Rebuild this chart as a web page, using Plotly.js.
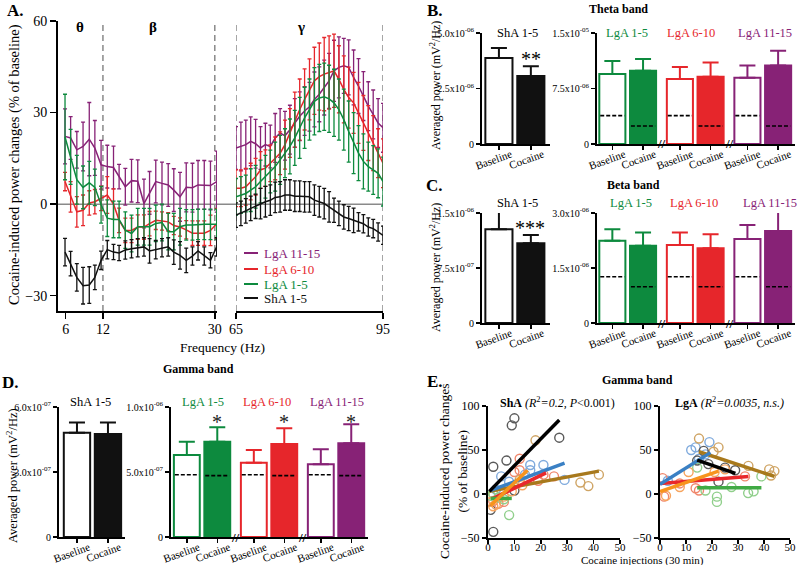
<!DOCTYPE html>
<html>
<head>
<meta charset="utf-8">
<script src="https://cdn.plot.ly/plotly-3.0.1.min.js"></script>
<style>
  body { margin: 0; background: #fff; }
  #chart { width: 800px; height: 565px; }
</style>
</head>
<body>
<div id="chart"></div>
<script>
// ------------------------------- data: panel A (spectra) -------------------------------
var freqLow = [5.9, 6.8, 7.8, 8.8, 9.8, 10.7, 11.7, 12.7, 13.7, 14.6, 15.6, 16.6, 17.6, 18.6, 19.5, 20.5, 21.5, 22.5, 23.4, 24.4, 25.4, 26.4, 27.3, 28.3, 29.3, 30.3];
var freqHigh = [65, 66, 67, 68, 69, 70, 71, 72, 73, 74, 75, 76, 77, 78, 79, 80, 81, 82, 83, 84, 85, 86, 87, 88, 89, 90, 91, 92, 93, 94, 95];

var lga1115Low = [22.2, 21.7, 17.8, 18.9, 21.3, 18.4, 12.9, 12.3, 12.0, 9.0, 5.7, 7.7, 7.5, 0.2, 3.7, 7.4, 6.8, 6.3, 4.6, 2.4, 5.5, 5.4, 6.3, 6.3, 6.1, 7.4];
var lga1115LowErr = [9, 7, 6, 8, 12, 9, 8, 7, 7, 4, 6, 7, 7, 8, 7, 7, 7, 7, 7, 8, 8, 8, 8, 8, 8, 10];
var lga610Low = [7.4, 2.4, -2.5, -2, 0.4, 0.8, 1.9, 3, 0, -5.3, -8.6, -8.6, -7.5, -7.5, -6.4, -5.3, -5.5, -5.8, -7, -7.5, -8.4, -9.5, -9.5, -9.5, -8.6, -6.4];
var lga610LowErr = [3, 5, 5, 5, 4, 4, 4, 6, 5, 4, 4, 4, 4, 4, 4, 3, 3, 3, 3, 3, 3, 4, 4, 4, 5, 5];
var lga15Low = [22, 15.5, 8, 5.5, 7, 5.5, -0.2, -4.6, -5, -5, -8.5, -9.6, -7.4, -7.4, -7.4, -6.3, -6, -9, -9, -7.4, -6.8, -6.8, -6.6, -6.6, -6.6, -6.6];
var lga15LowErr = [14, 9, 8, 7, 7, 6, 6, 6, 6, 6, 6, 6, 6, 6, 6, 6, 6, 6, 6, 6, 5, 5, 5, 5, 5, 5];
var sha15Low = [-15.7, -19.5, -24, -26.7, -26.5, -24, -18.4, -14.9, -15.7, -16, -15, -14.6, -14.3, -14, -15.3, -14.9, -14.3, -14, -15.7, -16.8, -18.4, -17, -15.3, -17, -18.4, -14];
var sha15LowErr = [4.5, 4, 4.5, 6, 6, 4, 3, 3, 2.5, 2.5, 3, 3, 3, 3, 4, 3, 3, 3, 4, 4.5, 4, 3, 3, 3, 2.5, 3];

var lga1115High = [18.4, 18.9, 19.5, 20.6, 19.8, 18.4, 19.5, 18.9, 21.7, 23.3, 22.4, 24.4, 26.6, 28.8, 30.5, 31.9, 34.3, 36, 38.2, 40.4, 43.7, 44.8, 45.3, 44.8, 41.5, 38.7, 35.4, 32.1, 29.4, 26.6, 25];
var lga1115HighErr = [7, 8, 8, 8, 8, 7, 7, 7, 8, 8, 8, 8, 8, 8, 8, 8, 9, 9, 9, 9, 10, 10, 9, 9, 9, 9, 8, 8, 8, 8, 8];
var lga610High = [5.2, 5.2, 5.7, 7.4, 9, 11.2, 11.8, 13.4, 15, 16.7, 19.5, 23.3, 27.7, 31, 34.3, 37.6, 40.4, 41.8, 42.6, 43.1, 43.7, 40.9, 37.6, 34.9, 33.2, 29.9, 26.6, 23.3, 20, 16.7, 13.4];
var lga610HighErr = [6, 6, 6, 6, 6, 6, 6, 6, 7, 7, 8, 8, 9, 10, 10, 10, 11, 11, 12, 12, 12, 11, 11, 10, 10, 10, 9, 9, 9, 8, 8];
var lga15High = [2.4, 3, 3.5, 4.6, 5.7, 7.4, 9, 10.7, 12.3, 14.5, 16.7, 18.9, 21.7, 25, 28.3, 31, 33.7, 34.8, 35.2, 34.5, 33.2, 31, 27.7, 23.8, 20, 16.7, 14, 12.3, 11.2, 10.1, 7.4];
var lga15HighErr = [6, 6, 6, 7, 7, 7, 7, 7, 8, 8, 8, 9, 9, 10, 10, 10, 11, 11, 11, 11, 11, 10, 10, 10, 10, 9, 9, 8, 8, 8, 8];
var sha15High = [-3.6, -3, -2.2, -1.4, -0.7, 0.2, 0.8, 1.3, 2.2, 2.4, 3, 3, 2.6, 2.6, 2.4, 2.4, 1.3, 0.8, 0.2, -0.9, -2, -3, -4.2, -4.7, -5.3, -5.8, -6.4, -7.5, -8, -9.1, -10.2];
var sha15HighErr = [4, 4, 4, 4, 4, 5, 5, 5, 5, 5, 5, 5, 5, 5, 5, 5, 5, 5, 5, 5, 4, 4, 4, 4, 4, 3, 3, 3, 3, 3, 3];

var seriesNames = ['LgA 11-15', 'LgA 6-10', 'LgA 1-5', 'ShA 1-5'];

// ------------------------------- data: panels B, C, D (bars) -------------------------------
var conditions = ['Baseline', 'Cocaine'];
var lgaGroups = ['LgA 1-5', 'LgA 6-10', 'LgA 11-15'];

var thetaSha = [3.87e-6, 3.06e-6];
var thetaShaErr = [0.45e-6, 0.44e-6];
var thetaLga = [9.46e-6, 9.9e-6, 8.78e-6, 9.1e-6, 8.96e-6, 10.6e-6];
var thetaLgaErr = [1.74e-6, 1.6e-6, 1.62e-6, 1.9e-6, 1.64e-6, 2.0e-6];
var thetaRef = [3.83e-6, 2.43e-6];

var betaSha = [1.28e-6, 1.087e-6];
var betaShaErr = [0.275e-6, 0.113e-6];
var betaLga = [2.24e-6, 2.11e-6, 2.13e-6, 2.04e-6, 2.29e-6, 2.51e-6];
var betaLgaErr = [0.32e-6, 0.36e-6, 0.34e-6, 0.38e-6, 0.38e-6, 0.52e-6];
var betaRef = [1.26e-6, 0.99e-6];

var gammaSha = [4.81e-7, 4.75e-7];
var gammaShaErr = [0.48e-7, 0.53e-7];
var gammaLga = [6.31e-7, 7.33e-7, 5.72e-7, 7.15e-7, 5.59e-7, 7.21e-7];
var gammaLgaErr = [1.02e-7, 1.11e-7, 0.97e-7, 1.21e-7, 1.16e-7, 1.46e-7];
var gammaRef = [4.79e-7, 4.72e-7];

var thetaShaTicks = ['0', '2.5x10<sup>-06</sup>', '5.0x10<sup>-06</sup>'];
var thetaLgaTicks = ['0', '7.5x10<sup>-06</sup>', '1.5x10<sup>-05</sup>'];
var betaShaTicks = ['0', '7.5x10<sup>-07</sup>', '1.5x10<sup>-06</sup>'];
var betaLgaTicks = ['0', '1.5x10<sup>-06</sup>', '3.0x10<sup>-06</sup>'];
var gammaShaTicks = ['0', '3.0x10<sup>-07</sup>', '6.0x10<sup>-07</sup>'];
var gammaLgaTicks = ['0', '5.0x10<sup>-07</sup>', '1.0x10<sup>-06</sup>'];

// ------------------------------- data: panel E (scatter + fits) -------------------------------
var shaBlackX = [1, 2, 2, 7, 9, 10, 10, 27];
var shaBlackY = [-18, -43, 31, 38, 78, 86, 4, 64];
var shaBlueX = [5, 8, 14, 16, 16, 21, 29, 3];
var shaBlueY = [20, 14, 22, 33, 27, 33, 16, 5];
var shaRedX = [2, 4, 6, 10, 12, 12, 19, 21, 25];
var shaRedY = [-8, -11, -9, 25, 40, 27, 15, 22, 20];
var shaBrownX = [18, 12, 35, 38, 42, 2];
var shaBrownY = [61, 16, 13, 9, 22, 0];
var shaGreenX = [1, 2, 4, 8, 6];
var shaGreenY = [-2, 0, -4, -24, -6];
var shaOrangeX = [1, 2, 3, 6, 9, 13];
var shaOrangeY = [-9, -14, -12, -3, 3, 10];

var shaFitBlackX = [0.5, 27], shaFitBlackY = [3, 84];
var shaFitBlueX = [1, 29], shaFitBlueY = [4, 35];
var shaFitBrownX = [0.5, 42], shaFitBrownY = [3, 26];
var shaFitRedX = [2, 22], shaFitRedY = [-5, 24];
var shaFitOrangeX = [1, 15], shaFitOrangeY = [-13, 27];
var shaFitGreenX = [1, 9], shaFitGreenY = [-5, -5];

var lgaBlueX = [13.7, 19, 15, 17.5, 3, 12];
var lgaBlueY = [53, 59, 40, 45, 15, 50];
var lgaBrownX = [15, 22.5, 20.6, 42, 44, 42.7, 34];
var lgaBrownY = [63, 53, 48, 28, 26, 21, 32];
var lgaBlackX = [16.8, 28.9, 22.5, 18.6, 14.3, 25];
var lgaBlackY = [49, 27, 14, 34, 38, 30];
var lgaRedX = [1, 1.6, 13.7, 32.7, 7.6, 15];
var lgaRedY = [18, -3, 6.5, 20, 12, 4];
var lgaGreenX = [14.3, 21.9, 21.9, 17.5, 27.5, 33.9, 36, 39];
var lgaGreenY = [30, -3, -9, 4, 8, 1, 3, 20];
var lgaOrangeX = [2.3, 7.6, 21, 25, 11];
var lgaOrangeY = [-2, 8, 25, 28, 25];

var lgaFitBlueX = [0, 19.4], lgaFitBlueY = [11, 47];
var lgaFitBrownX = [15, 44], lgaFitBrownY = [48, 20];
var lgaFitBlackX = [14.3, 29], lgaFitBlackY = [38.6, 23.5];
var lgaFitOrangeX = [0, 22.5], lgaFitOrangeY = [2.7, 26];
var lgaFitRedX = [0, 34], lgaFitRedY = [12, 20];
var lgaFitGreenX = [14.3, 39], lgaFitGreenY = [7, 7];

// ------------------------------- styles -------------------------------
var serif = 'Liberation Serif';
var cPurple = '#872276';
var cRed = '#e6262b';
var cGreen = '#0d8a3e';
var cBlack = '#111111';
var groupColors = [cGreen, cRed, cPurple];

// bar slots (Baseline / Cocaine pairs, gap where the axis is broken)
var shaPos = [0, 1];
var lgaPos = [0, 1, 2.2, 3.2, 4.4, 5.4];
var barWidth = 0.85;

function px(x) { return x / 800; }
function py(y) { return 1 - y / 565; }

function note(text, x, y, size, color, extra) {
    var a = {
        text: text, x: px(x), y: py(y), xref: 'paper', yref: 'paper',
        showarrow: false, xanchor: 'center', yanchor: 'middle',
        font: { family: serif, size: size, color: color || 'black' }
    };
    return Object.assign(a, extra || {});
}

function axis(extra) {
    return Object.assign({
        showline: true, linecolor: 'black', linewidth: 2,
        ticks: 'outside', ticklen: 5, tickwidth: 1.5, tickcolor: 'black',
        showgrid: false, zeroline: false, fixedrange: true,
        tickfont: { family: serif, size: 11, color: 'black' }
    }, extra);
}

var traces = [];

// ------------------------------- Panel A -------------------------------
function specTrace(x, y, err, color, xaxis) {
    return {
        type: 'scatter', mode: 'lines', x: x, y: y, xaxis: xaxis, yaxis: 'y',
        line: { color: color, width: 1.5 },
        error_y: { type: 'data', array: err, visible: true, color: color, thickness: 1.3, width: 2 },
        showlegend: false, hoverinfo: 'skip'
    };
}
traces.push(specTrace(freqLow, lga1115Low, lga1115LowErr, cPurple, 'x'));
traces.push(specTrace(freqLow, lga610Low, lga610LowErr, cRed, 'x'));
traces.push(specTrace(freqLow, lga15Low, lga15LowErr, cGreen, 'x'));
traces.push(specTrace(freqLow, sha15Low, sha15LowErr, cBlack, 'x'));
traces.push(specTrace(freqHigh, lga1115High, lga1115HighErr, cPurple, 'x2'));
traces.push(specTrace(freqHigh, lga610High, lga610HighErr, cRed, 'x2'));
traces.push(specTrace(freqHigh, lga15High, lga15HighErr, cGreen, 'x2'));
traces.push(specTrace(freqHigh, sha15High, sha15HighErr, cBlack, 'x2'));

// ------------------------------- Panels B, C, D -------------------------------
function barPair(xa, ya, pos, vals, errs, color) {
    return {
        type: 'bar', x: pos, y: vals, width: barWidth, xaxis: xa, yaxis: ya,
        marker: { color: ['white', color], line: { color: color, width: 2 } },
        error_y: { type: 'data', array: errs, symmetric: false, arrayminus: [0, 0], color: color, thickness: 2, width: 8 },
        showlegend: false, hoverinfo: 'skip'
    };
}

function refTrace(xa, ya, ref) {
    var x = [], y = [];
    lgaPos.forEach(function (p, i) {
        x.push(p - barWidth / 2 + 0.03, p + barWidth / 2 - 0.03, null);
        y.push(ref[i % 2], ref[i % 2], null);
    });
    return {
        type: 'scatter', mode: 'lines', x: x, y: y, xaxis: xa, yaxis: ya,
        line: { color: 'black', width: 1.6, dash: '4px,2px' },
        showlegend: false, hoverinfo: 'skip'
    };
}

function bandPanel(xs, ys, xl, yl, sha, shaErr, lga, lgaErr, ref) {
    traces.push(barPair(xs, ys, shaPos, sha, shaErr, cBlack));
    for (var g = 0; g < 3; g++) {
        traces.push(barPair(xl, yl, lgaPos.slice(2 * g, 2 * g + 2), lga.slice(2 * g, 2 * g + 2),
            lgaErr.slice(2 * g, 2 * g + 2), groupColors[g]));
    }
    traces.push(refTrace(xl, yl, ref));
}
bandPanel('x3', 'y3', 'x4', 'y4', thetaSha, thetaShaErr, thetaLga, thetaLgaErr, thetaRef);
bandPanel('x5', 'y5', 'x6', 'y6', betaSha, betaShaErr, betaLga, betaLgaErr, betaRef);
bandPanel('x7', 'y7', 'x8', 'y8', gammaSha, gammaShaErr, gammaLga, gammaLgaErr, gammaRef);

// ------------------------------- Panel E -------------------------------
function circles(x, y, color, xa, ya) {
    return {
        type: 'scatter', mode: 'markers', x: x, y: y, xaxis: xa, yaxis: ya,
        marker: { symbol: 'circle-open', size: 9, color: color, line: { width: 1.4 } },
        showlegend: false, hoverinfo: 'skip'
    };
}
function fit(x, y, color, xa, ya) {
    return {
        type: 'scatter', mode: 'lines', x: x, y: y, xaxis: xa, yaxis: ya,
        line: { color: color, width: 3.5 }, showlegend: false, hoverinfo: 'skip'
    };
}
var ptBlack = '#5a5a5a', ptBlue = '#7faadd', ptRed = '#f0876c', ptBrown = '#cfa464', ptGreen = '#90cf8b', ptOrange = '#f6a45e';
var lnBlack = '#000000', lnBlue = '#3a80c4', lnRed = '#e8282b', lnBrown = '#a8791c', lnGreen = '#40aa44', lnOrange = '#f7941d';

traces.push(circles(shaBlackX, shaBlackY, ptBlack, 'x9', 'y9'));
traces.push(circles(shaBlueX, shaBlueY, ptBlue, 'x9', 'y9'));
traces.push(circles(shaRedX, shaRedY, ptRed, 'x9', 'y9'));
traces.push(circles(shaBrownX, shaBrownY, ptBrown, 'x9', 'y9'));
traces.push(circles(shaGreenX, shaGreenY, ptGreen, 'x9', 'y9'));
traces.push(circles(shaOrangeX, shaOrangeY, ptOrange, 'x9', 'y9'));
traces.push(fit(shaFitBrownX, shaFitBrownY, lnBrown, 'x9', 'y9'));
traces.push(fit(shaFitBlueX, shaFitBlueY, lnBlue, 'x9', 'y9'));
traces.push(fit(shaFitRedX, shaFitRedY, lnRed, 'x9', 'y9'));
traces.push(fit(shaFitGreenX, shaFitGreenY, lnGreen, 'x9', 'y9'));
traces.push(fit(shaFitBlackX, shaFitBlackY, lnBlack, 'x9', 'y9'));
traces.push(fit(shaFitOrangeX, shaFitOrangeY, lnOrange, 'x9', 'y9'));

traces.push(circles(lgaBlueX, lgaBlueY, ptBlue, 'x10', 'y10'));
traces.push(circles(lgaBrownX, lgaBrownY, ptBrown, 'x10', 'y10'));
traces.push(circles(lgaBlackX, lgaBlackY, ptBlack, 'x10', 'y10'));
traces.push(circles(lgaRedX, lgaRedY, ptRed, 'x10', 'y10'));
traces.push(circles(lgaGreenX, lgaGreenY, ptGreen, 'x10', 'y10'));
traces.push(circles(lgaOrangeX, lgaOrangeY, ptOrange, 'x10', 'y10'));
traces.push(fit(lgaFitGreenX, lgaFitGreenY, lnGreen, 'x10', 'y10'));
traces.push(fit(lgaFitRedX, lgaFitRedY, lnRed, 'x10', 'y10'));
traces.push(fit(lgaFitOrangeX, lgaFitOrangeY, lnOrange, 'x10', 'y10'));
traces.push(fit(lgaFitBrownX, lgaFitBrownY, lnBrown, 'x10', 'y10'));
traces.push(fit(lgaFitBlueX, lgaFitBlueY, lnBlue, 'x10', 'y10'));
traces.push(fit(lgaFitBlackX, lgaFitBlackY, lnBlack, 'x10', 'y10'));

// ------------------------------- layout -------------------------------
function catAxis(dom, rng, pos, ya) {
    return axis({ domain: dom, range: rng, anchor: ya,
        tickvals: pos,
        ticktext: pos.map(function (p, i) { return conditions[i % 2]; }),
        tickangle: -20, ticklabelshift: 12, ticklabelstandoff: -6, ticklen: 4,
        tickfont: { family: serif, size: 11, color: 'black' } });
}
function valAxis(dom, top, labels, xa) {
    return axis({ domain: dom, range: [0, top], anchor: xa,
        tickvals: [0, top / 2, top], ticktext: labels, ticklen: 4,
        tickfont: { family: serif, size: 10, color: 'black' } });
}
function scatAxisX(dom, ya) {
    return axis({ domain: dom, range: [0, 50], anchor: ya, tickvals: [0, 10, 20, 30, 40, 50], ticklen: 4,
        ticklabelstandoff: -6, tickfont: { family: serif, size: 11, color: 'black' } });
}
function scatAxisY(xa) {
    return axis({ domain: [py(538), py(406)], range: [-50, 100], anchor: xa, tickvals: [-50, 0, 50, 100], ticklen: 4,
        tickfont: { family: serif, size: 12, color: 'black' } });
}

var shaDomB = [px(482), px(550)], lgaDomB = [px(597), px(795)];
var layout = {
    width: 800, height: 565,
    margin: { l: 0, r: 0, t: 0, b: 0 },
    paper_bgcolor: 'white', plot_bgcolor: 'rgba(0,0,0,0)',
    showlegend: false, barmode: 'overlay',
    font: { family: serif, color: 'black' },

    // panel A
    xaxis: axis({ domain: [px(58), px(217)], range: [4.77, 30.35], anchor: 'y', tickvals: [6, 12, 30], ticklen: 6,
        ticklabelstandoff: -2, tickfont: { family: serif, size: 14, color: 'black' } }),
    xaxis2: axis({ domain: [px(236), px(383)], range: [65, 95], anchor: 'y', tickvals: [65, 95], ticklen: 6,
        ticklabelstandoff: -2, tickfont: { family: serif, size: 14, color: 'black' } }),
    yaxis: axis({ domain: [py(311), py(21)], range: [-35, 60], anchor: 'x', tickvals: [-30, 0, 30, 60], ticklen: 6,
        tickfont: { family: serif, size: 14, color: 'black' } }),

    // panel B
    xaxis3: catAxis(shaDomB, [-0.53, 1.6], shaPos, 'y3'),
    yaxis3: valAxis([py(144), py(33)], 5e-6, thetaShaTicks, 'x3'),
    xaxis4: catAxis(lgaDomB, [-0.5, 5.95], lgaPos, 'y4'),
    yaxis4: valAxis([py(144), py(33)], 1.5e-5, thetaLgaTicks, 'x4'),

    // panel C
    xaxis5: catAxis(shaDomB, [-0.53, 1.6], shaPos, 'y5'),
    yaxis5: valAxis([py(323), py(213)], 1.5e-6, betaShaTicks, 'x5'),
    xaxis6: catAxis(lgaDomB, [-0.5, 5.95], lgaPos, 'y6'),
    yaxis6: valAxis([py(323), py(213)], 3e-6, betaLgaTicks, 'x6'),

    // panel D
    xaxis7: catAxis([px(59), px(125)], [-0.58, 1.55], shaPos, 'y7'),
    yaxis7: valAxis([py(537), py(407)], 6e-7, gammaShaTicks, 'x7'),
    xaxis8: catAxis([px(171), px(368)], [-0.52, 5.95], lgaPos, 'y8'),
    yaxis8: valAxis([py(537), py(407)], 1e-6, gammaLgaTicks, 'x8'),

    // panel E
    xaxis9: scatAxisX([px(488), px(620)], 'y9'),
    yaxis9: scatAxisY('x9'),
    xaxis10: scatAxisX([px(660), px(790)], 'y10'),
    yaxis10: scatAxisY('x10'),

    shapes: [],
    annotations: []
};

// panel A guides
layout.shapes.push({ type: 'line', xref: 'paper', yref: 'y', x0: px(58), x1: px(383), y0: 0, y1: 0,
    line: { color: '#8a8a8a', width: 1.5 }, layer: 'below' });
[['x', 12], ['x', 30], ['x2', 65], ['x2', 95]].forEach(function (d) {
    layout.shapes.push({ type: 'line', xref: d[0], yref: 'y', x0: d[1], x1: d[1], y0: -35, y1: 60,
        line: { color: '#777777', width: 1.3, dash: '6px,4px' }, layer: 'below' });
});

// panel A legend (compact, drawn by hand)
var legendColors = [cPurple, cRed, cGreen, cBlack];
var legendRows = [253, 269, 284, 298];
seriesNames.forEach(function (name, i) {
    layout.shapes.push({ type: 'line', xref: 'paper', yref: 'paper', x0: px(244), x1: px(258),
        y0: py(legendRows[i]), y1: py(legendRows[i]), line: { color: legendColors[i], width: 2 } });
    layout.annotations.push(note(name, 262, legendRows[i], 13, legendColors[i], { xanchor: 'left' }));
});

var ann = layout.annotations;
ann.push(note('<b>A.</b>', 15, 11, 17));
ann.push(note('<b>θ</b>', 80, 27, 15));
ann.push(note('<b>β</b>', 153, 27, 15));
ann.push(note('<b>γ</b>', 301, 27, 15));
ann.push(note('Frequency (Hz)', 222, 347, 13.5));
ann.push(note('Cocaine-induced power changes (% of baseline)', 14, 165, 14.5, null, { textangle: -90 }));

// panel B
ann.push(note('<b>B.</b>', 435, 10, 17));
ann.push(note('<b>Theta band</b>', 618, 9, 12));
ann.push(note('Averaged power (mV<sup>2</sup>/Hz)', 436, 86, 12, null, { textangle: -90 }));
ann.push(note('ShA 1-5', 517, 33, 12.5));
ann.push(note('**', 531, 59, 20));

// panel C
ann.push(note('<b>C.</b>', 435, 185, 17));
ann.push(note('<b>Beta band</b>', 633, 185, 12));
ann.push(note('Averaged power (mV<sup>2</sup>/Hz)', 436, 268, 12, null, { textangle: -90 }));
ann.push(note('ShA 1-5', 517, 203, 12.5));
ann.push(note('***', 530, 228, 20));

// panel D
ann.push(note('<b>D.</b>', 10, 382, 17));
ann.push(note('<b>Gamma band</b>', 198, 369, 12));
ann.push(note('Averaged power (mV<sup>2</sup>/Hz)', 12, 476, 12.5, null, { textangle: -90 }));
ann.push(note('ShA 1-5', 90, 402, 12.5));

// group labels and axis breaks for B, C, D
var groupLabelX = { B: [627, 691, 765], C: [631, 694, 770], D: [203, 267, 337] };
var groupLabelY = { B: 33, C: 203, D: 402 };
['B', 'C', 'D'].forEach(function (k) {
    lgaGroups.forEach(function (g, i) {
        ann.push(note(g, groupLabelX[k][i], groupLabelY[k], 12.5, groupColors[i]));
    });
});
[['x4', 'y4'], ['x6', 'y6'], ['x8', 'y8']].forEach(function (a) {
    [1.6, 3.8].forEach(function (b) {
        ann.push({ text: '<b>//</b>', x: b, y: 0, xref: a[0], yref: a[1], showarrow: false,
            xanchor: 'center', yanchor: 'middle', font: { family: serif, size: 13, color: 'black' } });
    });
});
// significance stars above the cocaine bars in gamma
[1, 3.2, 5.4].forEach(function (b) {
    ann.push({ text: '*', x: b, y: 0.885e-6, xref: 'x8', yref: 'y8', showarrow: false,
        xanchor: 'center', yanchor: 'middle', font: { family: serif, size: 20, color: '#222' } });
});

// panel E
ann.push(note('<b>E.</b>', 435, 381, 17));
ann.push(note('<b>Gamma band</b>', 637, 380, 12));
ann.push(note('Cocaine-induced power changes<br>(% of baseline)', 453, 472, 13.5, null, { textangle: -90 }));
ann.push(note('Cocaine injections (30 min)', 642, 560, 11));
ann.push(note('<b>ShA</b> <i>(R</i><sup>2</sup><i>=0.2, P</i>&lt;0.001)', 557, 402, 12));
ann.push(note('<b>LgA</b> <i>(R</i><sup>2</sup><i>=0.0035, n.s.)</i>', 729, 402, 12));

Plotly.newPlot('chart', traces, layout, { staticPlot: true });
</script>
</body>
</html>
